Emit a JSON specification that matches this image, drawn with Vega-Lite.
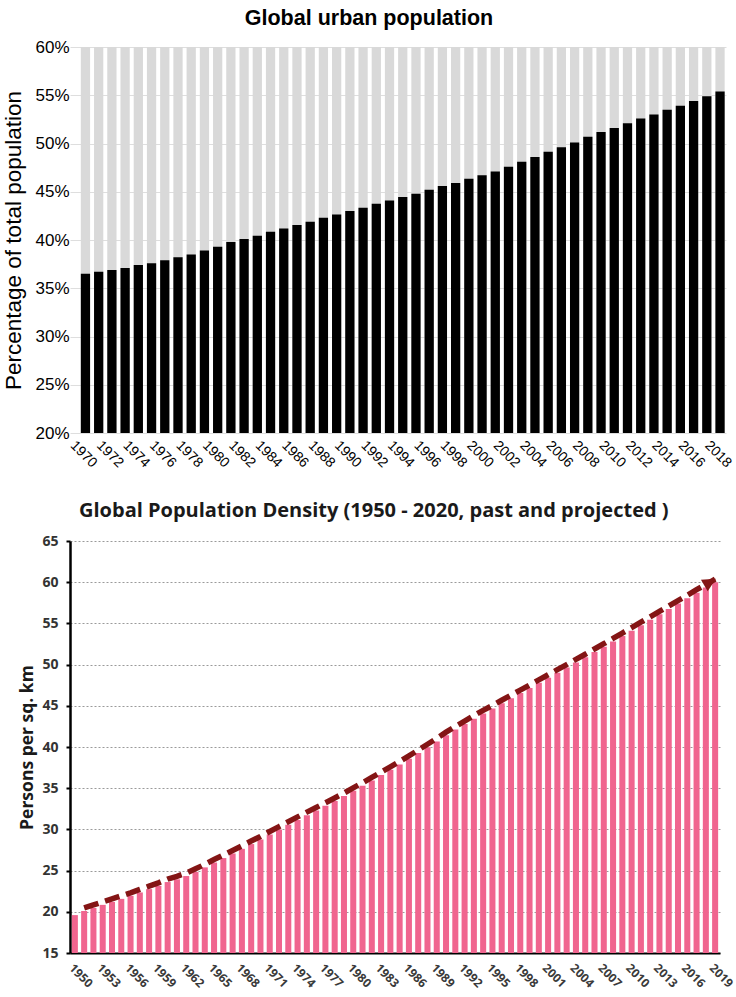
{
  "$schema": "https://vega.github.io/schema/vega-lite/v6.json",
  "background": "white",
  "padding": {"left": 2, "top": 7, "right": 2, "bottom": 0},
  "config": {"view": {"stroke": null}},
  "spacing": 31,
  "datasets": {
    "urban": [
      {"year": 1970, "urban": 36.5}, {"year": 1971, "urban": 36.7}, {"year": 1972, "urban": 36.9}, {"year": 1973, "urban": 37.1},
      {"year": 1974, "urban": 37.4}, {"year": 1975, "urban": 37.6}, {"year": 1976, "urban": 37.9}, {"year": 1977, "urban": 38.2},
      {"year": 1978, "urban": 38.5}, {"year": 1979, "urban": 38.9}, {"year": 1980, "urban": 39.3}, {"year": 1981, "urban": 39.8},
      {"year": 1982, "urban": 40.1}, {"year": 1983, "urban": 40.45}, {"year": 1984, "urban": 40.85}, {"year": 1985, "urban": 41.2},
      {"year": 1986, "urban": 41.55}, {"year": 1987, "urban": 41.9}, {"year": 1988, "urban": 42.3}, {"year": 1989, "urban": 42.65},
      {"year": 1990, "urban": 43.0}, {"year": 1991, "urban": 43.35}, {"year": 1992, "urban": 43.75}, {"year": 1993, "urban": 44.1},
      {"year": 1994, "urban": 44.45}, {"year": 1995, "urban": 44.8}, {"year": 1996, "urban": 45.2}, {"year": 1997, "urban": 45.6},
      {"year": 1998, "urban": 45.9}, {"year": 1999, "urban": 46.35}, {"year": 2000, "urban": 46.7}, {"year": 2001, "urban": 47.1},
      {"year": 2002, "urban": 47.6}, {"year": 2003, "urban": 48.1}, {"year": 2004, "urban": 48.6}, {"year": 2005, "urban": 49.15},
      {"year": 2006, "urban": 49.6}, {"year": 2007, "urban": 50.1}, {"year": 2008, "urban": 50.7}, {"year": 2009, "urban": 51.2},
      {"year": 2010, "urban": 51.6}, {"year": 2011, "urban": 52.1}, {"year": 2012, "urban": 52.6}, {"year": 2013, "urban": 53.0},
      {"year": 2014, "urban": 53.5}, {"year": 2015, "urban": 53.9}, {"year": 2016, "urban": 54.4}, {"year": 2017, "urban": 54.9},
      {"year": 2018, "urban": 55.4}
    ],
    "density": [
      {"year": 1950, "density": 19.6}, {"year": 1951, "density": 20.1}, {"year": 1952, "density": 20.47}, {"year": 1953, "density": 20.84},
      {"year": 1954, "density": 21.21}, {"year": 1955, "density": 21.57}, {"year": 1956, "density": 21.94}, {"year": 1957, "density": 22.35},
      {"year": 1958, "density": 22.75}, {"year": 1959, "density": 23.15}, {"year": 1960, "density": 23.61}, {"year": 1961, "density": 23.94},
      {"year": 1962, "density": 24.34}, {"year": 1963, "density": 24.85}, {"year": 1964, "density": 25.39}, {"year": 1965, "density": 25.98},
      {"year": 1966, "density": 26.52}, {"year": 1967, "density": 27.08}, {"year": 1968, "density": 27.64}, {"year": 1969, "density": 28.22},
      {"year": 1970, "density": 28.78}, {"year": 1971, "density": 29.38}, {"year": 1972, "density": 29.98}, {"year": 1973, "density": 30.57},
      {"year": 1974, "density": 31.15}, {"year": 1975, "density": 31.73}, {"year": 1976, "density": 32.3}, {"year": 1977, "density": 32.87},
      {"year": 1978, "density": 33.45}, {"year": 1979, "density": 34.04}, {"year": 1980, "density": 34.68}, {"year": 1981, "density": 35.29},
      {"year": 1982, "density": 35.94}, {"year": 1983, "density": 36.59}, {"year": 1984, "density": 37.23}, {"year": 1985, "density": 37.89},
      {"year": 1986, "density": 38.56}, {"year": 1987, "density": 39.26}, {"year": 1988, "density": 39.97}, {"year": 1989, "density": 40.68},
      {"year": 1990, "density": 41.44}, {"year": 1991, "density": 42.12}, {"year": 1992, "density": 42.78}, {"year": 1993, "density": 43.44},
      {"year": 1994, "density": 44.08}, {"year": 1995, "density": 44.68}, {"year": 1996, "density": 45.31}, {"year": 1997, "density": 45.93},
      {"year": 1998, "density": 46.54}, {"year": 1999, "density": 47.16}, {"year": 2000, "density": 47.79}, {"year": 2001, "density": 48.4},
      {"year": 2002, "density": 49.02}, {"year": 2003, "density": 49.64}, {"year": 2004, "density": 50.26}, {"year": 2005, "density": 50.89},
      {"year": 2006, "density": 51.53}, {"year": 2007, "density": 52.17}, {"year": 2008, "density": 52.81}, {"year": 2009, "density": 53.47},
      {"year": 2010, "density": 54.12}, {"year": 2011, "density": 54.78}, {"year": 2012, "density": 55.43}, {"year": 2013, "density": 56.1},
      {"year": 2014, "density": 56.75}, {"year": 2015, "density": 57.41}, {"year": 2016, "density": 58.06}, {"year": 2017, "density": 58.72},
      {"year": 2018, "density": 59.36}, {"year": 2019, "density": 60.0}
    ]
  },
  "vconcat": [
    {
      "title": {"text": "Global urban population", "font": "Liberation Sans", "fontSize": 21.5, "fontWeight": "bold", "color": "#000000", "dx": -29, "offset": 9},
      "width": 656,
      "height": 386,
      "data": {"name": "urban"},
      "encoding": {
        "x": {
          "field": "year", "type": "ordinal",
          "scale": {"paddingInner": 0.3, "paddingOuter": 0.46, "align": 0.89},
          "axis": {
            "title": null, "ticks": false, "domain": false, "grid": false,
            "values": [1970, 1972, 1974, 1976, 1978, 1980, 1982, 1984, 1986, 1988, 1990, 1992, 1994, 1996, 1998, 2000, 2002, 2004, 2006, 2008, 2010, 2012, 2014, 2016, 2018],
            "labelAngle": 45, "labelAlign": "left", "labelBaseline": "top",
            "labelFont": "Liberation Sans", "labelFontSize": 14, "labelColor": "#000000", "labelPadding": 5, "labelOffset": -8
          }
        }
      },
      "layer": [
        {
          "mark": {"type": "bar", "color": "#d9d9d9"},
          "encoding": {
            "y": {
              "datum": 60, "type": "quantitative",
              "scale": {"domain": [20, 60], "nice": false},
              "axis": {
                "title": "Percentage of total population",
                "values": [20, 25, 30, 35, 40, 45, 50, 55, 60],
                "labelExpr": "datum.value + '%'",
                "labelFont": "Liberation Sans", "labelFontSize": 17, "labelColor": "#000000", "labelPadding": 1,
                "ticks": false, "domain": false,
                "grid": true, "gridColor": "#dedede", "gridWidth": 1,
                "titleFont": "Liberation Sans", "titleFontSize": 22.5, "titleFontWeight": "normal", "titleColor": "#000000", "titlePadding": 9
              }
            },
            "y2": {"datum": 20}
          }
        },
        {
          "mark": {"type": "bar", "color": "#000000"},
          "encoding": {
            "y": {"field": "urban", "type": "quantitative"},
            "y2": {"datum": 20}
          }
        }
      ]
    },
    {
      "title": {"text": "Global Population Density (1950 - 2020, past and projected )", "font": "Open Sans", "fontSize": 20, "fontWeight": "bold", "color": "#1a1a1a", "anchor": "start", "frame": "group", "dx": 9, "offset": 13},
      "width": 650,
      "height": 412,
      "data": {"name": "density"},
      "encoding": {
        "x": {
          "field": "year", "type": "ordinal",
          "scale": {"paddingInner": 0.35, "paddingOuter": 0.2},
          "axis": {
            "title": null, "ticks": false, "grid": false,
            "domain": true, "domainColor": "#000000", "domainWidth": 2,
            "values": [1950, 1953, 1956, 1959, 1962, 1965, 1968, 1971, 1974, 1977, 1980, 1983, 1986, 1989, 1992, 1995, 1998, 2001, 2004, 2007, 2010, 2013, 2016, 2019],
            "labelAngle": 45, "labelAlign": "left", "labelBaseline": "top",
            "labelFont": "Open Sans", "labelFontWeight": "bold", "labelFontSize": 12, "labelColor": "#3a3a3a", "labelPadding": 9
          }
        }
      },
      "layer": [
        {
          "mark": {"type": "bar", "color": "#f0658f"},
          "encoding": {
            "y": {
              "field": "density", "type": "quantitative",
              "scale": {"domain": [15, 65], "nice": false},
              "axis": {
                "title": "Persons per sq. km",
                "values": [15, 20, 25, 30, 35, 40, 45, 50, 55, 60, 65],
                "labelFont": "Open Sans", "labelFontWeight": "bold", "labelFontSize": 14, "labelColor": "#333333", "labelPadding": 8,
                "ticks": true, "tickSize": 4, "tickColor": "#000000", "tickWidth": 2,
                "domain": true, "domainColor": "#000000", "domainWidth": 2.5,
                "grid": true, "gridColor": "#9a9a9a", "gridDash": [2, 2], "gridWidth": 1,
                "titleFont": "Open Sans", "titleFontSize": 17.5, "titleFontWeight": "bold", "titleColor": "#1a1a1a", "titlePadding": 5
              }
            },
            "y2": {"datum": 15}
          }
        },
        {
          "transform": [{"filter": "datum.year >= 1951"}],
          "mark": {"type": "line", "color": "#841515", "strokeWidth": 5.5, "strokeDash": [15, 7], "yOffset": -3},
          "encoding": {
            "y": {"field": "density", "type": "quantitative"}
          }
        },
        {
          "transform": [{"filter": "datum.year == 2019"}],
          "mark": {"type": "point", "shape": "M-1,-1L1,0L-1,1Z", "filled": true, "size": 180, "angle": -30, "color": "#841515", "opacity": 1, "xOffset": -5, "yOffset": 0},
          "encoding": {
            "y": {"field": "density", "type": "quantitative"}
          }
        }
      ]
    }
  ]
}
